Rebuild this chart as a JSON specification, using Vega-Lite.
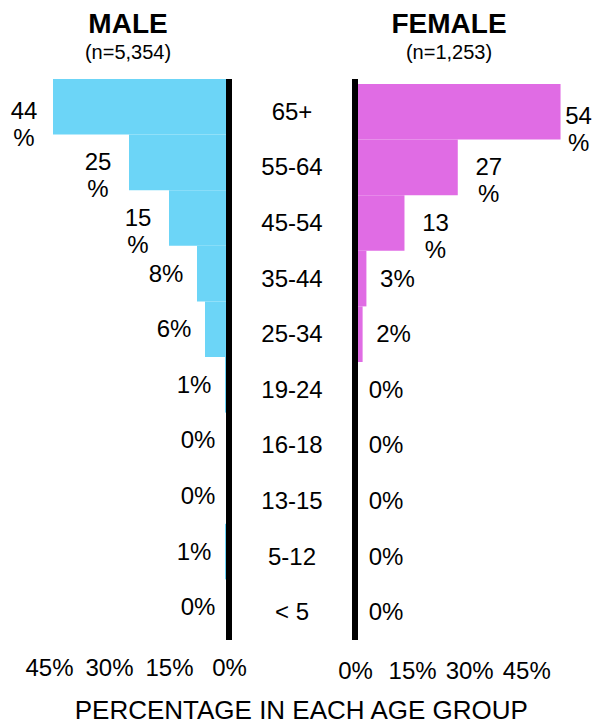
{
  "$schema": "https://vega.github.io/schema/vega-lite/v6.json",
  "autosize": {"type": "pad"},
  "padding": {"left": 10, "top": 10, "right": 0, "bottom": 0},
  "background": "white",
  "spacing": 0,
  "bounds": "flush",
  "config": {
    "font": "Liberation Sans",
    "view": {"stroke": null},
    "concat": {"spacing": 0},
    "text": {"fontSize": 24, "color": "black", "lineBreak": "\n", "lineHeight": 27},
    "axis": {"labelFont": "Liberation Sans"}
  },
  "data": {
    "values": [
      {"age": "65+", "male": 44, "female": 54, "male_label": "44\n%", "female_label": "54\n%"},
      {"age": "55-64", "male": 25, "female": 27, "male_label": "25\n%", "female_label": "27\n%"},
      {"age": "45-54", "male": 15, "female": 13, "male_label": "15\n%", "female_label": "13\n%"},
      {"age": "35-44", "male": 8, "female": 3, "male_label": "8%", "female_label": "3%"},
      {"age": "25-34", "male": 6, "female": 2, "male_label": "6%", "female_label": "2%"},
      {"age": "19-24", "male": 1, "female": 0, "male_label": "1%", "female_label": "0%"},
      {"age": "16-18", "male": 0, "female": 0, "male_label": "0%", "female_label": "0%"},
      {"age": "13-15", "male": 0, "female": 0, "male_label": "0%", "female_label": "0%"},
      {"age": "5-12", "male": 1, "female": 0, "male_label": "1%", "female_label": "0%"},
      {"age": "< 5", "male": 0, "female": 0, "male_label": "0%", "female_label": "0%"}
    ]
  },
  "title": {
    "text": "PERCENTAGE IN EACH AGE GROUP",
    "orient": "bottom",
    "anchor": "middle",
    "fontSize": 26,
    "fontWeight": "normal",
    "color": "black",
    "offset": 15
  },
  "hconcat": [
    {
      "width": 180,
      "height": 561,
      "title": {
        "text": "MALE",
        "subtitle": "(n=5,354)",
        "fontSize": 28,
        "fontWeight": "bold",
        "color": "black",
        "subtitleFontSize": 20,
        "subtitleColor": "black",
        "subtitlePadding": 4,
        "anchor": "middle",
        "dx": -11,
        "offset": 14
      },
      "layer": [
        {
          "mark": {"type": "bar", "color": "#6CD5F7"},
          "encoding": {
            "y": {
              "field": "age",
              "type": "nominal",
              "sort": null,
              "axis": null,
              "scale": {"type": "band", "paddingInner": 0, "paddingOuter": 0.045, "align": 0}
            },
            "x": {
              "field": "male",
              "type": "quantitative",
              "scale": {"domain": [0, 45], "reverse": true, "nice": false},
              "axis": {
                "values": [0, 15, 30, 45],
                "labelExpr": "datum.value + '%'",
                "domain": false,
                "ticks": false,
                "grid": false,
                "title": null,
                "labelFontSize": 24,
                "labelColor": "black",
                "labelPadding": 16,
                "labelFlush": false,
                "labelOverlap": false,
                "labelBound": false
              }
            }
          }
        },
        {
          "mark": {"type": "rule", "color": "black", "strokeWidth": 5},
          "encoding": {"x": {"datum": 0, "type": "quantitative"}}
        },
        {
          "transform": [{"filter": "datum.age == '65+'"}],
          "mark": {"type": "text", "align": "center", "baseline": "middle", "dx": -29, "dy": 5},
          "encoding": {
            "y": {"field": "age", "type": "nominal", "sort": null, "bandPosition": 0.5},
            "x": {"field": "male", "type": "quantitative"},
            "text": {"field": "male_label"}
          }
        },
        {
          "transform": [{"filter": "datum.age != '65+'"}],
          "mark": {"type": "text", "align": "center", "baseline": "middle", "dx": -31, "dy": 1},
          "encoding": {
            "y": {"field": "age", "type": "nominal", "sort": null, "bandPosition": 0.5},
            "x": {"field": "male", "type": "quantitative"},
            "text": {"field": "male_label"}
          }
        }
      ]
    },
    {
      "width": 126,
      "height": 561,
      "mark": {"type": "text", "align": "center", "baseline": "middle", "fontSize": 24, "dy": 1},
      "encoding": {
        "y": {
          "field": "age",
          "type": "nominal",
          "sort": null,
          "axis": null,
          "bandPosition": 0.5,
          "scale": {"type": "band", "paddingInner": 0, "paddingOuter": 0.045, "align": 1}
        },
        "text": {"field": "age"}
      }
    },
    {
      "width": 236,
      "height": 561,
      "title": {
        "text": "FEMALE",
        "subtitle": "(n=1,253)",
        "fontSize": 28,
        "fontWeight": "bold",
        "color": "black",
        "subtitleFontSize": 20,
        "subtitleColor": "black",
        "subtitlePadding": 4,
        "anchor": "middle",
        "dx": -24,
        "offset": 14
      },
      "layer": [
        {
          "mark": {"type": "bar", "color": "#E06CE4"},
          "encoding": {
            "y": {
              "field": "age",
              "type": "nominal",
              "sort": null,
              "axis": null,
              "scale": {"type": "band", "paddingInner": 0, "paddingOuter": 0.045, "align": 1}
            },
            "x": {
              "field": "female",
              "type": "quantitative",
              "scale": {"domain": [0, 62], "nice": false},
              "axis": {
                "values": [0, 15, 30, 45],
                "labelExpr": "datum.value + '%'",
                "domain": false,
                "ticks": false,
                "grid": false,
                "title": null,
                "labelFontSize": 24,
                "labelColor": "black",
                "labelPadding": 19,
                "labelFlush": false,
                "labelOverlap": false,
                "labelBound": false
              }
            }
          }
        },
        {
          "mark": {"type": "rule", "color": "black", "strokeWidth": 5},
          "encoding": {"x": {"datum": 0, "type": "quantitative"}}
        },
        {
          "transform": [{"filter": "datum.age == '65+'"}],
          "mark": {"type": "text", "align": "center", "baseline": "middle", "dx": 18, "dy": 5},
          "encoding": {
            "y": {"field": "age", "type": "nominal", "sort": null, "bandPosition": 0.5},
            "x": {"field": "female", "type": "quantitative"},
            "text": {"field": "female_label"}
          }
        },
        {
          "transform": [{"filter": "datum.age != '65+'"}],
          "mark": {"type": "text", "align": "center", "baseline": "middle", "dx": 31, "dy": 1},
          "encoding": {
            "y": {"field": "age", "type": "nominal", "sort": null, "bandPosition": 0.5},
            "x": {"field": "female", "type": "quantitative"},
            "text": {"field": "female_label"}
          }
        }
      ]
    }
  ]
}
